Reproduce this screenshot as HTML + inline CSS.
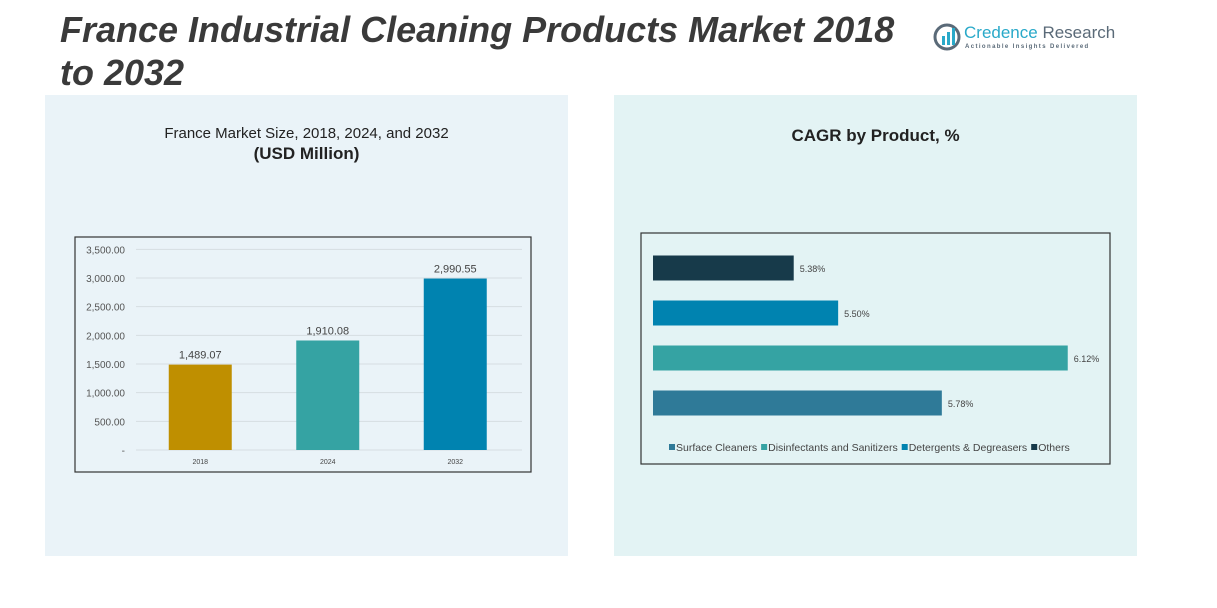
<!DOCTYPE html>
<html><head><meta charset="utf-8"><style>
body{margin:0;width:1217px;height:608px;background:#fff;font-family:"Liberation Sans",sans-serif;position:relative;overflow:hidden}
.title{position:absolute;left:60px;top:8px;font-size:36px;font-weight:bold;font-style:italic;color:#3a3a3a;line-height:43px;width:860px}
.panel{position:absolute;top:95px;height:461px;width:523px}
</style></head><body>
<div class="panel" style="left:45px;background:#eaf3f8"></div>
<div class="panel" style="left:614px;background:#e3f3f4"></div>
<div class="title">France Industrial Cleaning Products Market 2018 to 2032</div>
<div style="position:absolute;left:933px;top:20px;width:180px;height:34px">
<svg width="30" height="30" style="position:absolute;left:0;top:2px"><circle cx="14" cy="15" r="12" fill="none" stroke="#5a6a78" stroke-width="3"/><rect x="9" y="14" width="3" height="9" fill="#29a9c9"/><rect x="14" y="10" width="3" height="13" fill="#29a9c9"/><rect x="19" y="6" width="3" height="17" fill="#29a9c9"/></svg>
<div style="position:absolute;left:31px;top:3px;font-size:17px;color:#29a9c9;white-space:nowrap">Credence <span style="color:#5a6a78">Research</span></div>
<div style="position:absolute;left:32px;top:24px;font-size:6px;letter-spacing:1.4px;color:#5a6a78;white-space:nowrap;font-weight:bold">Actionable Insights Delivered</div>
</div>
<div style="position:absolute;left:45px;width:523px;top:125px;text-align:center;font-size:15px;color:#222">France Market Size, 2018, 2024, and 2032<br><b style="font-size:17px;line-height:24px">(USD Million)</b></div>
<div style="position:absolute;left:614px;width:523px;top:126px;text-align:center;font-size:17px;font-weight:bold;color:#222">CAGR by Product, %</div>
<svg id="bar" style="position:absolute;left:0;top:0" width="1217" height="608"></svg>
<script>
const years=["2018","2024","2032"];
const sizes=[1489.07,1910.08,2990.55];
const yTicks=[0,500,1000,1500,2000,2500,3000,3500];
const products=["Others","Detergents & Degreasers","Disinfectants and Sanitizers","Surface Cleaners"];
const cagr=[5.38,5.50,6.12,5.78];
const legendOrder=["Surface Cleaners","Disinfectants and Sanitizers","Detergents & Degreasers","Others"];
const colY=["#bf8f00","#35a3a3","#0083b0"];
const colP={"Others":"#173a4a","Detergents & Degreasers":"#0083b0","Disinfectants and Sanitizers":"#35a3a3","Surface Cleaners":"#2f7a98"};
const svg=document.getElementById('bar');const NS="http://www.w3.org/2000/svg";
function mk(t,a,txt){const e=document.createElementNS(NS,t);for(const k in a)e.setAttribute(k,a[k]);if(txt!=null)e.textContent=txt;svg.appendChild(e);return e;}
let e=mk('rect',{x:75,y:237,width:456,height:235,fill:'none',stroke:'#333','stroke-width':1.2});

const y=v=>450-v*(172/3000);
yTicks.forEach(t=>{e=mk('line',{x1:136,x2:522,y1:y(t),y2:y(t),stroke:'#d5dde2'});

e=mk('text',{x:125,y:y(t)+4,'text-anchor':'end','font-size':10,fill:'#555'},t===0?'-':t.toLocaleString('en-US',{minimumFractionDigits:2}));
});
const bw=127.5,x0=136.5;
years.forEach((yr,i)=>{const cx=x0+bw*(i+0.5);
e=mk('rect',{x:cx-31.5,y:y(sizes[i]),width:63,height:450-y(sizes[i]),fill:colY[i]});

e=mk('text',{x:cx,y:y(sizes[i])-6,'text-anchor':'middle','font-size':11,fill:'#444'},sizes[i].toLocaleString('en-US',{minimumFractionDigits:2}));

e=mk('text',{x:cx,y:464,'text-anchor':'middle','font-size':7,fill:'#444'},yr);
});
e=mk('rect',{x:641,y:233,width:469,height:231,fill:'none',stroke:'#333','stroke-width':1.2});

const xs=v=>653+(v-5.0)*370.3;
products.forEach((p,i)=>{const cy=268+45*i;
e=mk('rect',{x:653,y:cy-12.5,width:xs(cagr[i])-653,height:25,fill:colP[p]});

e=mk('text',{x:xs(cagr[i])+6,y:cy+4,'font-size':9,fill:'#444'},cagr[i].toFixed(2)+'%');
});
let lx=669;
legendOrder.forEach(p=>{e=mk('rect',{x:lx,y:444,width:6,height:6,fill:colP[p]});

e=mk('text',{x:lx+7,y:451,'font-size':10.5,fill:'#444'},p);

lx+=7+e.getComputedTextLength()+4;});
</script>
</body></html>
